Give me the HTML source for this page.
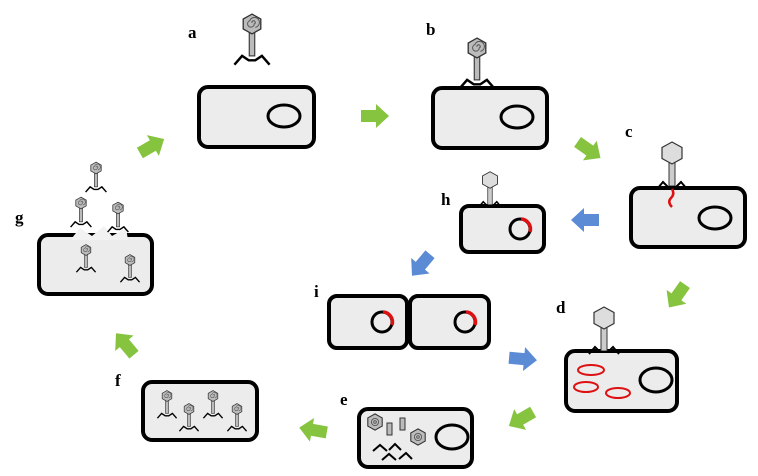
<!DOCTYPE html>
<html><head><style>
html,body{margin:0;padding:0;background:#fff;}
svg{display:block;}
text{font-family:"Liberation Serif",serif;font-weight:bold;font-size:17px;fill:#000;}
</style></head><body>
<svg width="758" height="476" viewBox="0 0 758 476" xmlns="http://www.w3.org/2000/svg">
<defs>
<g id="ph">
 <rect x="-2.5" y="7" width="5" height="22" fill="#bbb" stroke="#333" stroke-width="1"/>
 <polygon points="0,-9 8,-4.5 8,4.5 0,9 -8,4.5 -8,-4.5" fill="#bbb" stroke="#333" stroke-width="1.2"/>
 <path d="M0,-1 a1.5,1.5 0 1 1 2,1 a3,3 0 1 1 -4,-3 a4.5,4.5 0 1 1 5,6" fill="none" stroke="#555" stroke-width="0.9"/>
 <polyline points="-16,37 -9,29 -3,33 3,33 9,29 16,37" fill="none" stroke="#000" stroke-width="2.2"/>
</g>
<g id="phe">
 <rect x="-3" y="9" width="6" height="24" fill="#ccc" stroke="#333" stroke-width="1"/>
 <polygon points="0,-11 10,-5.5 10,5.5 0,11 -10,5.5 -10,-5.5" fill="#ddd" stroke="#333" stroke-width="1.2"/>
 <polyline points="-15,36 -9,29 -4,34 4,34 9,29 15,36" fill="none" stroke="#000" stroke-width="2"/>
</g>
<path id="ar" d="M-14,-6 L1,-6 L1,-12 L14,0 L1,12 L1,6 L-14,6 Z"/>
</defs>

<g stroke="#000" stroke-width="4" fill="#ececec">
 <rect x="199" y="87" width="115" height="60" rx="9"/>
 <rect x="433" y="88" width="114" height="60" rx="9"/>
 <rect x="631" y="188" width="114" height="59" rx="9"/>
 <rect x="461" y="206" width="83" height="46" rx="8"/>
 <rect x="329" y="296" width="78" height="52" rx="8"/>
 <rect x="410" y="296" width="79" height="52" rx="8"/>
 <rect x="566" y="351" width="111" height="60" rx="9"/>
 <rect x="359" y="409" width="113" height="58" rx="9"/>
 <rect x="143" y="382" width="114" height="58" rx="9"/>
 <rect x="39" y="235" width="113" height="59" rx="9"/>
</g>
<polygon points="72,238 80,228 92,236 104,226 112,236 126,228 128,240 72,240" fill="#f2f2f2"/>

<g fill="none" stroke="#000" stroke-width="3">
 <ellipse cx="284" cy="116" rx="16" ry="11"/>
 <ellipse cx="517" cy="117" rx="16" ry="11"/>
 <ellipse cx="715" cy="218" rx="16" ry="11"/>
 <circle cx="520" cy="229" r="10"/>
 <circle cx="382" cy="322" r="10"/>
 <circle cx="465" cy="322" r="10"/>
 <ellipse cx="656" cy="380" rx="16" ry="12"/>
 <ellipse cx="452" cy="437" rx="16" ry="12"/>
</g>
<g fill="none" stroke="#d11" stroke-width="3.5">
 <path d="M521,219 A10,10 0 0 1 530,232"/>
 <path d="M383,312 A10,10 0 0 1 392,325"/>
 <path d="M466,312 A10,10 0 0 1 475,325"/>
 <path d="M672,189 q3,5 -1,9 q-4,4 1,9" stroke-width="2.5"/>
</g>
<g fill="none" stroke="#d11" stroke-width="2">
 <ellipse cx="591" cy="370" rx="13" ry="5"/>
 <ellipse cx="586" cy="387" rx="12" ry="5"/>
 <ellipse cx="618" cy="393" rx="12" ry="5"/>
</g>

<use href="#ph" transform="translate(252,24) scale(1.1)"/>
<use href="#ph" transform="translate(477,48) scale(1.1)"/>
<use href="#phe" transform="translate(672,153)"/>
<use href="#phe" transform="translate(490,180) scale(0.75)"/>
<use href="#phe" transform="translate(604,318)"/>
<use href="#ph" transform="translate(96,168) scale(0.65)"/>
<use href="#ph" transform="translate(81,203) scale(0.65)"/>
<use href="#ph" transform="translate(118,208) scale(0.65)"/>
<use href="#ph" transform="translate(86,250) scale(0.6)"/>
<use href="#ph" transform="translate(130,260) scale(0.6)"/>
<use href="#ph" transform="translate(167,396) scale(0.6)"/>
<use href="#ph" transform="translate(189,409) scale(0.6)"/>
<use href="#ph" transform="translate(213,396) scale(0.6)"/>
<use href="#ph" transform="translate(237,409) scale(0.6)"/>
<g transform="translate(375,422) scale(0.9)"><polygon points="0,-9 8,-4.5 8,4.5 0,9 -8,4.5 -8,-4.5" fill="#bbb" stroke="#333" stroke-width="1.2"/><circle r="4" fill="none" stroke="#555"/><circle r="1.5" fill="none" stroke="#555"/></g>
<g transform="translate(418,437) scale(0.9)"><polygon points="0,-9 8,-4.5 8,4.5 0,9 -8,4.5 -8,-4.5" fill="#bbb" stroke="#333" stroke-width="1.2"/><circle r="4" fill="none" stroke="#555"/><circle r="1.5" fill="none" stroke="#555"/></g>
<rect x="387" y="423" width="5" height="12" fill="#bbb" stroke="#333"/>
<rect x="400" y="418" width="5" height="12" fill="#bbb" stroke="#333"/>
<g fill="none" stroke="#000" stroke-width="2">
 <polyline points="373,451 380,445 387,451"/>
 <polyline points="389,450 395,444 401,450"/>
 <polyline points="382,460 389,454 396,460"/>
 <polyline points="399,459 406,453 412,459"/>
</g>

<g fill="#86c440">
 <use href="#ar" transform="translate(375,116)"/>
 <use href="#ar" transform="translate(589,150) rotate(35)"/>
 <use href="#ar" transform="translate(677,296) rotate(125)"/>
 <use href="#ar" transform="translate(521,419) rotate(150)"/>
 <use href="#ar" transform="translate(313,430) rotate(190)"/>
 <use href="#ar" transform="translate(125,344) rotate(-130)"/>
 <use href="#ar" transform="translate(152,146) rotate(-30)"/>
</g>
<g fill="#5b8bd4">
 <use href="#ar" transform="translate(585,220) rotate(180)"/>
 <use href="#ar" transform="translate(421,265) rotate(130)"/>
 <use href="#ar" transform="translate(523,359) rotate(5)"/>
</g>

<text x="188" y="38">a</text>
<text x="426" y="35">b</text>
<text x="625" y="137">c</text>
<text x="441" y="205">h</text>
<text x="314" y="297">i</text>
<text x="556" y="313">d</text>
<text x="340" y="405">e</text>
<text x="115" y="386">f</text>
<text x="15" y="223">g</text>
</svg>
</body></html>
